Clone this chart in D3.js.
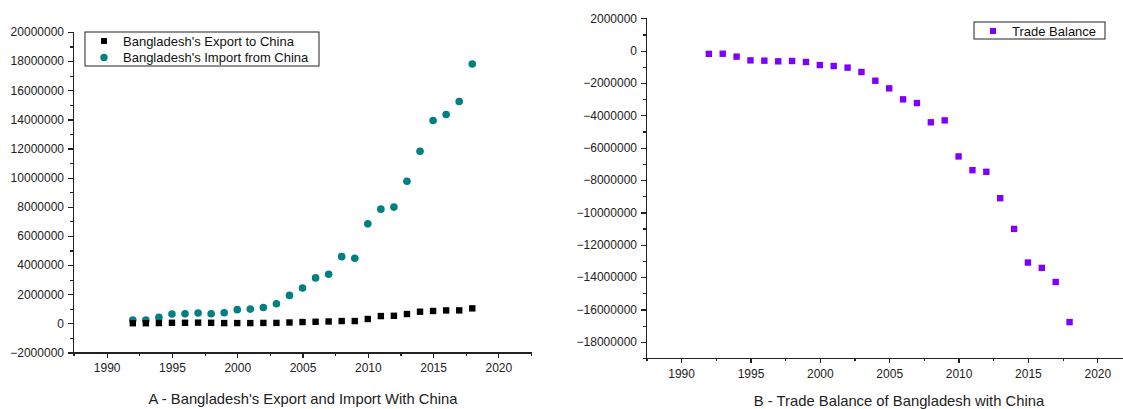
<!DOCTYPE html>
<meta charset="utf-8">
<html>
<head>
    <style>
        body { margin: 0; background: #fff; }
        svg { display: block; }
        .axis path, .axis line { stroke: #222; stroke-width: 1.2px; shape-rendering: crispEdges; }
        .axis text { font: 12px "Liberation Sans", Arial, sans-serif; fill: #222; }
        .title { font: 14.8px "Liberation Sans", Arial, sans-serif; fill: #222; }
        .legend text { font: 13px "Liberation Sans", Arial, sans-serif; fill: #111; }
    </style>
    <script src="https://d3js.org/d3.v7.min.js"></script>
</head>
<body>
<svg id="svg" width="1123" height="409"></svg>
<script>

    var years = d3.range(1992, 2019);

    var exportToChina = [0.01, 0.01, 0.02, 0.04, 0.04, 0.05, 0.04, 0.02, 0.02, 0.02, 0.03, 0.03, 0.06,
        0.09, 0.11, 0.13, 0.16, 0.16, 0.30, 0.50, 0.52, 0.64, 0.80, 0.85, 0.89, 0.89, 1.03];

    var importFromChina = [0.23, 0.22, 0.41, 0.64, 0.66, 0.71, 0.66, 0.73, 0.94, 0.98, 1.09, 1.35, 1.92,
        2.43, 3.12, 3.37, 4.58, 4.47, 6.83, 7.84, 7.98, 9.75, 11.81, 13.92, 14.34, 15.23, 17.80];

    var tradeBalance = [-0.20, -0.19, -0.37, -0.60, -0.62, -0.66, -0.64, -0.70, -0.89, -0.95, -1.05, -1.32, -1.86,
        -2.33, -3.01, -3.24, -4.43, -4.31, -6.54, -7.39, -7.49, -9.12, -11.02, -13.10, -13.43, -14.30, -16.78];

    var xTicks = [1990, 1995, 2000, 2005, 2010, 2015, 2020];
    var yTicksA = d3.range(-2e6, 20e6 + 1, 2e6);
    var yTicksB = d3.range(-18e6, 2e6 + 1, 2e6);

    var svg = d3.select("svg");

    function drawAxes(x, y, yTicks, xMinor, yMinor) {
        var g = svg.append("g");
        var y0 = y.range()[0], x0 = x.range()[0];

        // minor ticks
        g.append("g").attr("class", "axis")
            .attr("transform", "translate(0," + y0 + ")")
            .call(d3.axisBottom(x).tickValues(xMinor).tickSize(3).tickFormat(""));
        g.append("g").attr("class", "axis")
            .attr("transform", "translate(" + x0 + ",0)")
            .call(d3.axisLeft(y).tickValues(yMinor).tickSize(3).tickFormat(""));

        g.append("g").attr("class", "axis")
            .attr("transform", "translate(0," + y0 + ")")
            .call(d3.axisBottom(x).tickValues(xTicks).tickSize(5).tickSizeOuter(0).tickPadding(6).tickFormat(d3.format("d")));
        g.append("g").attr("class", "axis")
            .attr("transform", "translate(" + x0 + ",0)")
            .call(d3.axisLeft(y).tickValues(yTicks).tickSize(5).tickSizeOuter(0).tickPadding(4).tickFormat(d3.format("d")));
    }

    // ---- chart A ----
    var xA = d3.scaleLinear().domain([1987.42, 2022.5]).range([73, 531]);
    var yA = d3.scaleLinear().domain([-2e6, 20e6]).range([352.5, 32]);

    drawAxes(xA, yA, yTicksA, d3.range(1987.5, 2022.6, 2.5), d3.range(-2e6, 20e6 + 1, 1e6));

    svg.append("g").selectAll("circle")
        .data(years)
        .enter().append("circle")
        .attr("cx", function (d) { return xA(d); })
        .attr("cy", function (d, i) { return yA(importFromChina[i] * 1e6); })
        .attr("r", 3.8)
        .attr("fill", "#008080");

    svg.append("g").selectAll("rect")
        .data(years)
        .enter().append("rect")
        .attr("x", function (d) { return xA(d) - 3.2; })
        .attr("y", function (d, i) { return yA(exportToChina[i] * 1e6) - 3.2; })
        .attr("width", 6.4)
        .attr("height", 6.4)
        .attr("fill", "#000");

    var legA = svg.append("g").attr("class", "legend");
    legA.append("rect").attr("x", 85).attr("y", 32).attr("width", 234).attr("height", 34)
        .attr("fill", "#fff").attr("stroke", "#222").attr("stroke-width", 1);
    legA.append("rect").attr("x", 101).attr("y", 38).attr("width", 6).attr("height", 6).attr("fill", "#000");
    legA.append("circle").attr("cx", 104).attr("cy", 57.5).attr("r", 3.7).attr("fill", "#008080");
    legA.append("text").attr("x", 123).attr("y", 45.5).text("Bangladesh's Export to China");
    legA.append("text").attr("x", 123).attr("y", 62).text("Bangladesh's Import from China");

    svg.append("text").attr("class", "title")
        .attr("x", 303).attr("y", 404).attr("text-anchor", "middle")
        .text("A - Bangladesh's Export and Import With China");

    // ---- chart B ----
    var xB = d3.scaleLinear().domain([1987.47, 2022.5]).range([646, 1132]);
    var yB = d3.scaleLinear().domain([-19e6, 2e6]).range([358, 18.3]);

    drawAxes(xB, yB, yTicksB, d3.range(1987.5, 2022.6, 2.5), d3.range(-19e6, 2e6 + 1, 1e6));

    svg.append("g").selectAll("rect")
        .data(years)
        .enter().append("rect")
        .attr("x", function (d) { return xB(d) - 3.2; })
        .attr("y", function (d, i) { return yB(tradeBalance[i] * 1e6) - 3.2; })
        .attr("width", 6.4)
        .attr("height", 6.4)
        .attr("fill", "#8000ff");

    var legB = svg.append("g").attr("class", "legend");
    legB.append("rect").attr("x", 974).attr("y", 22).attr("width", 131).attr("height", 17)
        .attr("fill", "#fff").attr("stroke", "#222").attr("stroke-width", 1);
    legB.append("rect").attr("x", 990).attr("y", 28).attr("width", 6).attr("height", 6).attr("fill", "#8000ff");
    legB.append("text").attr("x", 1012).attr("y", 35.5).text("Trade Balance");

    svg.append("text").attr("class", "title")
        .attr("x", 899).attr("y", 406).attr("text-anchor", "middle")
        .text("B - Trade Balance of Bangladesh with China");

</script>
</body>
</html>
